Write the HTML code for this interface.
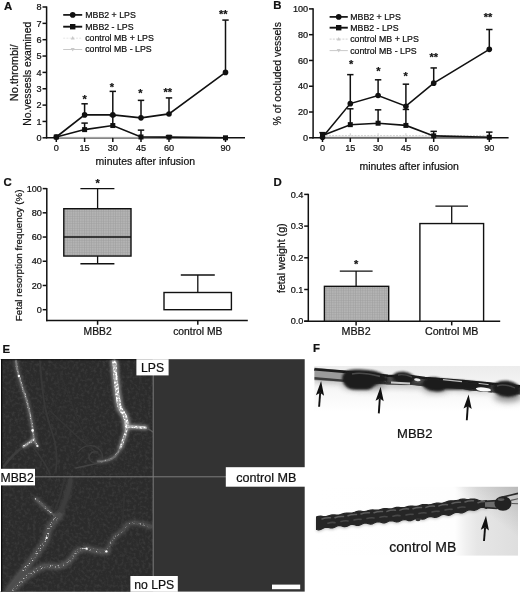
<!DOCTYPE html>
<html lang="en"><head><meta charset="utf-8"><title>Figure</title>
<style>html,body{margin:0;padding:0;background:#fff;}svg{display:block;}text{font-family:"Liberation Sans", Arial, sans-serif;fill:#111;stroke:#111;stroke-width:0.22px;}</style>
</head><body>
<svg width="520" height="593" viewBox="0 0 520 593">
<defs>
<pattern id="grid" width="2.4" height="2.4" patternUnits="userSpaceOnUse">
<rect width="2.4" height="2.4" fill="#b4b4b4"/>
<path d="M0 0H2.4M0 0V2.4" stroke="#9c9c9c" stroke-width="0.9"/>
</pattern>
<filter id="b1" x="-20%" y="-20%" width="140%" height="140%"><feGaussianBlur stdDeviation="0.6"/></filter>
<filter id="b4" x="-20%" y="-30%" width="140%" height="160%"><feGaussianBlur stdDeviation="0.9"/></filter>
<filter id="b2" x="-20%" y="-50%" width="140%" height="200%"><feGaussianBlur stdDeviation="1.6"/></filter>
<filter id="b3" x="-20%" y="-50%" width="140%" height="200%"><feGaussianBlur stdDeviation="3"/></filter>
<filter id="noise" x="0" y="0" width="100%" height="100%">
<feTurbulence type="fractalNoise" baseFrequency="0.33" numOctaves="3" seed="3" result="n"/>
<feColorMatrix type="matrix" values="0 0 0 0 1  0 0 0 0 1  0 0 0 0 1  1.6 0 0 0 -0.68"/>
</filter>
<filter id="speck" x="-5%" y="-5%" width="110%" height="110%">
<feTurbulence type="fractalNoise" baseFrequency="0.5" numOctaves="2" seed="11" result="n"/>
<feColorMatrix in="n" type="matrix" values="0 0 0 0 1  0 0 0 0 1  0 0 0 0 1  5 0 0 0 -2.15" result="nm"/>
<feComposite in="SourceGraphic" in2="nm" operator="in" result="c"/>
<feGaussianBlur in="c" stdDeviation="0.5"/>
</filter>
<filter id="speck2" x="-5%" y="-5%" width="110%" height="110%">
<feTurbulence type="fractalNoise" baseFrequency="0.6" numOctaves="2" seed="23" result="n"/>
<feColorMatrix in="n" type="matrix" values="0 0 0 0 1  0 0 0 0 1  0 0 0 0 1  6 0 0 0 -3.4" result="nm"/>
<feComposite in="SourceGraphic" in2="nm" operator="in" result="c"/>
<feGaussianBlur in="c" stdDeviation="0.35"/>
</filter>
<linearGradient id="gF1" x1="0" y1="0" x2="0" y2="1">
<stop offset="0" stop-color="#ececec"/><stop offset="0.35" stop-color="#f6f6f6"/><stop offset="0.7" stop-color="#ffffff"/><stop offset="1" stop-color="#ffffff"/>
</linearGradient>
<linearGradient id="gF2" x1="0" y1="0" x2="1" y2="0">
<stop offset="0" stop-color="#ffffff"/><stop offset="0.69" stop-color="#fefefe"/><stop offset="0.745" stop-color="#f0f0f0"/><stop offset="0.8" stop-color="#e6e6e6"/><stop offset="1" stop-color="#dedede"/>
</linearGradient>
<linearGradient id="gF3" x1="0.2" y1="1" x2="1" y2="0">
<stop offset="0" stop-color="#888" stop-opacity="0"/><stop offset="0.55" stop-color="#888" stop-opacity="0"/><stop offset="1" stop-color="#888" stop-opacity="0.42"/>
</linearGradient>
<clipPath id="cE"><rect x="0" y="359.2" width="153" height="232.4"/></clipPath>
<clipPath id="cF1"><rect x="314.4" y="366" width="205.6" height="70"/></clipPath>
<clipPath id="cF2"><rect x="314" y="486.8" width="204" height="69"/></clipPath>
</defs>
<text x="2.60" y="352.70" font-size="11.40" text-anchor="start" font-weight="bold" >E</text>
<rect x="0" y="359.2" width="304.7" height="232.4" fill="#333"/>
<rect x="0" y="359.2" width="153" height="232.4" fill="#2b2b2b"/>
<rect x="0" y="359.2" width="153" height="232.4" filter="url(#noise)" opacity="0.1"/>
<g clip-path="url(#cE)" fill="none" stroke-linecap="round" stroke-linejoin="round"><g filter="url(#b2)">
<path d="M15.8 360.3 C16.5 366 17.5 371 18.9 376 C20 380 21 383 22.1 386.6 C23.5 391 25 395 26.3 399.2 C27.5 403 28.6 407.5 29.5 411.8 C30.3 415 31 419 31.6 422.4 C32.2 426 32.7 428 33 430.8 C33.4 434 33.5 436 33.7 438.2 C34.5 441 35.6 443.5 37.4 446" stroke="#666" stroke-width="4.5" opacity="0.70"/>
<path d="M33.7 439.4 C30 442 27 444.6 23.4 446.6" stroke="#777" stroke-width="4.5" opacity="0.80"/>
<path d="M114 360.3 C114.6 364 115 368 115 371.9 C115.4 376 115.8 379 116.1 382.4 C116.5 386 116.8 389.5 117.2 393 C117.8 397 118.4 401 119.3 405.6 C120 408.5 121 410.5 122.5 412 C124 414 125 416 125.6 418.3 C126.3 421 126.6 424 126.7 426.7" stroke="#9a9a9a" stroke-width="7.5" opacity="0.80"/>
<path d="M126.7 427.5 C126 432 125 436 123.5 439.4 C122.6 442.5 121.6 445.4 120.4 447.8" stroke="#888" stroke-width="5.5" opacity="0.80"/>
<path d="M120.4 447.8 C119 451 117.2 453.8 115 456.3 C112.6 458.4 109.8 459.8 106.6 460.5 C103.6 461.2 101 461.5 98.2 461.5" stroke="#666" stroke-width="4.5" opacity="0.60"/>
<path d="M126.7 426.9 C133 426.6 139 427 145.7 427.8" stroke="#999" stroke-width="5.0" opacity="0.80"/>
<path d="M70.5 480 C69.6 488 67 496 63.5 505 C61.5 510 60.5 512 59.7 514.8" stroke="#484848" stroke-width="6.0" opacity="0.60"/>
<path d="M59.7 514.8 C56 519 52.5 523 49.8 526.7 C48 531 46.8 536 45.8 540.7 C42.5 545 39 550 35.8 554.6 C31.6 560 27.6 565.4 23.9 570.5 C19 576.6 14.4 582.4 10 588.4 C9 590 8.4 591 8 592" stroke="#555" stroke-width="8.0" opacity="0.75"/>
<path d="M35.8 498.9 C40 503 44.5 507 49 511 C50.6 512.4 52 513.6 53.7 514.8" stroke="#606060" stroke-width="4.5" opacity="0.70"/>
<path d="M12 591 C19 583 27 576 35.8 570.5 C38.4 568.8 41 567.4 43.8 566.5 C49 565.6 54.6 566.8 59.7 566.5 C63.4 565.4 66.8 563.2 69.7 560.6 C72 558 74 555.2 75.6 552.6 C77.6 550.6 80 549.4 85 548.6 C88.4 548.6 91.8 549.8 94.9 550.6 C99 551.4 103 551.8 106.8 551.6" stroke="#585858" stroke-width="7.0" opacity="0.75"/>
<path d="M106.8 551.6 C108.2 549.4 109 547 109.8 544.7 C111.4 541.8 113 539.2 114.8 536.7 C117.4 534.4 120.2 532.6 122.8 530.7 C124.4 528.8 125.6 526.8 126.8 524.8 C129.4 523.6 132 523 134.7 522.8 C140 523.4 145.4 524.8 150.6 526.7" stroke="#555" stroke-width="6.0" opacity="0.65"/>
</g>
<g filter="url(#b1)">
<path d="M40 361 C41 375 42 390 45 407 C47 416 49 424 52 432 C56 444 58 456 56 470" stroke="#383838" stroke-width="1.8"/>
<path d="M50 411 C60 420 70 430 80 439 C88 446 96 452 104 458" stroke="#363636" stroke-width="1.4"/>
<path d="M23 447 C16 452 10 458 4 466" stroke="#3e3e3e" stroke-width="2.4"/>
<path d="M34 448 C40 456 46 464 50 474" stroke="#383838" stroke-width="1.6"/>
<path d="M60 372 C70 400 80 430 92 452" stroke="#313131" stroke-width="1.4"/>
<path d="M78 452 C84 444 94 444 100 450 C106 458 100 466 92 462 C86 458 90 450 98 452" stroke="#3e3e3e" stroke-width="1.2"/>
<path d="M76 468 C86 466 96 464 106 461" stroke="#444" stroke-width="1.6"/>
<path d="M145.7 427.8 C148 428.6 150.6 430 153 432" stroke="#555" stroke-width="1.4"/>
<path d="M64 480 C62 492 58 504 52 516" stroke="#353535" stroke-width="1.8"/>
<path d="M122.8 522.8 C123 512 123.6 503 124.8 494.9" stroke="#333" stroke-width="1.6"/>
<path d="M110 546 C118 552 128 556 138 560" stroke="#313131" stroke-width="1.4"/>
<path d="M0 500 C8 510 14 522 18 536" stroke="#2f2f2f" stroke-width="1.6"/>
<path d="M60 530 C70 536 78 544 84 548" stroke="#323232" stroke-width="1.4"/>
<path d="M15.8 360.3 C16.5 366 17.5 371 18.9 376 C20 380 21 383 22.1 386.6 C23.5 391 25 395 26.3 399.2 C27.5 403 28.6 407.5 29.5 411.8 C30.3 415 31 419 31.6 422.4 C32.2 426 32.7 428 33 430.8 C33.4 434 33.5 436 33.7 438.2 C34.5 441 35.6 443.5 37.4 446" stroke="#7a7a7a" stroke-width="1.8" opacity="1.00"/>
<path d="M33.7 439.4 C30 442 27 444.6 23.4 446.6" stroke="#9a9a9a" stroke-width="2.2" opacity="1.00"/>
<path d="M114 360.3 C114.6 364 115 368 115 371.9 C115.4 376 115.8 379 116.1 382.4 C116.5 386 116.8 389.5 117.2 393 C117.8 397 118.4 401 119.3 405.6 C120 408.5 121 410.5 122.5 412 C124 414 125 416 125.6 418.3 C126.3 421 126.6 424 126.7 426.7" stroke="#a6a6a6" stroke-width="3.8" opacity="1.00"/>
<path d="M126.7 427.5 C126 432 125 436 123.5 439.4 C122.6 442.5 121.6 445.4 120.4 447.8" stroke="#909090" stroke-width="2.6" opacity="1.00"/>
<path d="M120.4 447.8 C119 451 117.2 453.8 115 456.3 C112.6 458.4 109.8 459.8 106.6 460.5 C103.6 461.2 101 461.5 98.2 461.5" stroke="#6a6a6a" stroke-width="2.2" opacity="1.00"/>
<path d="M126.7 426.9 C133 426.6 139 427 145.7 427.8" stroke="#b0b0b0" stroke-width="2.4" opacity="1.00"/>
<path d="M70.5 480 C69.6 488 67 496 63.5 505 C61.5 510 60.5 512 59.7 514.8" stroke="#3c3c3c" stroke-width="4.2" opacity="1.00"/>
<path d="M59.7 514.8 C56 519 52.5 523 49.8 526.7 C48 531 46.8 536 45.8 540.7 C42.5 545 39 550 35.8 554.6 C31.6 560 27.6 565.4 23.9 570.5 C19 576.6 14.4 582.4 10 588.4 C9 590 8.4 591 8 592" stroke="#4e4e4e" stroke-width="4.6" opacity="1.00"/>
<path d="M35.8 498.9 C40 503 44.5 507 49 511 C50.6 512.4 52 513.6 53.7 514.8" stroke="#585858" stroke-width="2.2" opacity="1.00"/>
<path d="M12 591 C19 583 27 576 35.8 570.5 C38.4 568.8 41 567.4 43.8 566.5 C49 565.6 54.6 566.8 59.7 566.5 C63.4 565.4 66.8 563.2 69.7 560.6 C72 558 74 555.2 75.6 552.6 C77.6 550.6 80 549.4 85 548.6 C88.4 548.6 91.8 549.8 94.9 550.6 C99 551.4 103 551.8 106.8 551.6" stroke="#505050" stroke-width="4.2" opacity="1.00"/>
<path d="M106.8 551.6 C108.2 549.4 109 547 109.8 544.7 C111.4 541.8 113 539.2 114.8 536.7 C117.4 534.4 120.2 532.6 122.8 530.7 C124.4 528.8 125.6 526.8 126.8 524.8 C129.4 523.6 132 523 134.7 522.8 C140 523.4 145.4 524.8 150.6 526.7" stroke="#4a4a4a" stroke-width="3.4" opacity="1.00"/>
</g></g>
<g clip-path="url(#cE)" fill="none" stroke-linecap="round" stroke-linejoin="round" filter="url(#speck)">
<path d="M114 360.3 C114.6 364 115 368 115 371.9 C115.4 376 115.8 379 116.1 382.4 C116.5 386 116.8 389.5 117.2 393 C117.8 397 118.4 401 119.3 405.6 C120 408.5 121 410.5 122.5 412 C124 414 125 416 125.6 418.3 C126.3 421 126.6 424 126.7 426.7" stroke="#ffffff" stroke-width="4.0" opacity="1.00"/>
<path d="M126.7 427.5 C126 432 125 436 123.5 439.4 C122.6 442.5 121.6 445.4 120.4 447.8" stroke="#f4f4f4" stroke-width="2.6" opacity="1.00"/>
<path d="M126.7 426.9 C133 426.6 139 427 145.7 427.8" stroke="#ffffff" stroke-width="2.2" opacity="1.00"/>
</g>
<g clip-path="url(#cE)" fill="none" stroke-linecap="round" stroke-linejoin="round" filter="url(#speck2)">
<path d="M15.8 360.3 C16.5 366 17.5 371 18.9 376 C20 380 21 383 22.1 386.6 C23.5 391 25 395 26.3 399.2 C27.5 403 28.6 407.5 29.5 411.8 C30.3 415 31 419 31.6 422.4 C32.2 426 32.7 428 33 430.8 C33.4 434 33.5 436 33.7 438.2 C34.5 441 35.6 443.5 37.4 446" stroke="#d0d0d0" stroke-width="2.0" opacity="0.85"/>
<path d="M33.7 439.4 C30 442 27 444.6 23.4 446.6" stroke="#ececec" stroke-width="2.4" opacity="1.00"/>
<path d="M120.4 447.8 C119 451 117.2 453.8 115 456.3 C112.6 458.4 109.8 459.8 106.6 460.5 C103.6 461.2 101 461.5 98.2 461.5" stroke="#b0b0b0" stroke-width="1.8" opacity="0.80"/>
<path d="M57 517 C54 521 51.4 524 49.8 526.7 C48 531 46.8 536 45.8 540.7 C42.5 545 39 550 35.8 554.6 C31.6 560 27.6 565.4 23.9 570.5" stroke="#e0e0e0" stroke-width="3.0" opacity="0.85"/>
<path d="M35.8 498.9 C40 503 44.5 507 49 511 C50.6 512.4 52 513.6 53.7 514.8" stroke="#d6d6d6" stroke-width="2.0" opacity="0.85"/>
<path d="M12 591 C19 583 27 576 35.8 570.5 C38.4 568.8 41 567.4 43.8 566.5 C49 565.6 54.6 566.8 59.7 566.5 C63.4 565.4 66.8 563.2 69.7 560.6 C72 558 74 555.2 75.6 552.6 C77.6 550.6 80 549.4 85 548.6 C88.4 548.6 91.8 549.8 94.9 550.6 C99 551.4 103 551.8 106.8 551.6" stroke="#dcdcdc" stroke-width="2.8" opacity="0.80"/>
<path d="M106.8 551.6 C108.2 549.4 109 547 109.8 544.7 C111.4 541.8 113 539.2 114.8 536.7 C117.4 534.4 120.2 532.6 122.8 530.7 C124.4 528.8 125.6 526.8 126.8 524.8 C129.4 523.6 132 523 134.7 522.8 C140 523.4 145.4 524.8 150.6 526.7" stroke="#b4b4b4" stroke-width="2.0" opacity="0.70"/>
</g>
<g filter="url(#b1)"><circle cx="18.9" cy="376" r="1.2" fill="#fff"/><circle cx="32.6" cy="430.4" r="1.3" fill="#fff"/><circle cx="37.4" cy="446" r="1.1" fill="#eee"/><circle cx="46.6" cy="538" r="1.1" fill="#fff"/><circle cx="106.4" cy="551.4" r="1.2" fill="#fff"/><circle cx="86.5" cy="548.6" r="1.2" fill="#fff"/></g>
<rect x="0" y="359.2" width="1.0" height="232.4" fill="#fff"/>
<rect x="1.0" y="359.2" width="1.3" height="232.4" fill="#0c0c0c"/>
<rect x="1.0" y="359.2" width="152" height="1.1" fill="#0c0c0c" opacity="0.8"/>
<line x1="153.20" y1="359.20" x2="153.20" y2="591.60" stroke="#7c7c7c" stroke-width="1.00" />
<line x1="0.00" y1="476.80" x2="304.70" y2="476.80" stroke="#7c7c7c" stroke-width="1.00" />
<rect x="136.4" y="359.2" width="32.2" height="16.2" fill="#fff"/>
<text x="152.60" y="372.20" font-size="12.20" text-anchor="middle" >LPS</text>
<rect x="0" y="468.8" width="35.0" height="16.6" fill="#fff"/>
<text x="0.50" y="481.80" font-size="12.20" text-anchor="start" >MBB2</text>
<rect x="225.8" y="467.2" width="79.4" height="19.5" fill="#fff"/>
<text x="266.40" y="481.80" font-size="12.60" text-anchor="middle" >control MB</text>
<rect x="130.4" y="576.0" width="47.4" height="15.8" fill="#fff"/>
<text x="154.20" y="588.60" font-size="12.20" text-anchor="middle" >no LPS</text>
<rect x="272" y="584.6" width="28.2" height="4.6" fill="#fff"/>
<text x="313.00" y="351.90" font-size="11.40" text-anchor="start" font-weight="bold" >F</text>
<rect x="314.4" y="366" width="205.6" height="66" fill="url(#gF1)"/>
<path d="M314.4 369.6 L326 370.6" stroke="#1c1c1c" stroke-width="5.6" fill="none" filter="url(#b1)"/>
<g clip-path="url(#cF1)">
<g filter="url(#b3)" fill="#6a6a6a" opacity="0.75">
<ellipse cx="365" cy="385" rx="22" ry="5"/><ellipse cx="436" cy="388.6" rx="13" ry="4"/><ellipse cx="508" cy="396" rx="14" ry="6"/>
<path d="M314 377 L345 380 L392 383 L420 384 L463 387 L492 390 L492 392 L463 390 L420 387 L392 386 L345 383 L314 381Z"/>
</g>
<g filter="url(#b1)">
<path d="M314 367.6 L343 370.6 L388 375 L410 375.6 L425 377.4 L463 380.2 L484 382.3 L520 385.6 L520 394.6 L484 391.8 L469 390.2 L463 388.7 L425 386 L410 384.4 L388 384.4 L343 382 L314 380.2Z" fill="#9a9a9a"/>
<path d="M386 375 L410 375.6 L425 377.4 L463 380.2 L484 382.3 L520 385.6 L520 394.6 L484 391.8 L469 390.2 L463 388.7 L425 386 L410 384.4 L386 384.2Z" fill="#4a4a4a"/>
<path d="M314 369.2 L343 371.6 L388 375.8 L412 376.4 L425 378 L463 381 L484 383.1 L520 386.4" fill="none" stroke="#1c1c1c" stroke-width="2.6"/>
<path d="M314 378.2 L343 380.6 L388 383.2 L412 383.8 L425 385.2 L463 387.8 L472 389.2 L492 391.4" fill="none" stroke="#3a3a3a" stroke-width="2.4"/>
<path d="M446 383.4 L470 386 L478 387.2" fill="none" stroke="#222" stroke-width="5"/>
</g>
<g filter="url(#b4)" fill="#1b1b1b">
<path d="M342 378 C342.4 375 344.6 371.6 347.3 370.7 C351 369.6 356 369.4 360 369.6 C365 369.8 370.6 370.2 374.8 371.1 C379 372.2 383 374 385.4 376 C387 377.4 388.2 378.6 388.2 379.6 C388 381 387 381.8 385.4 382.3 C382.6 383.2 379.6 383.6 376.9 384.4 C374.4 385.4 372.8 387.6 370.6 388.7 C368 389.8 365 389.9 362.1 389.8 C358.6 389.8 355 389.9 351.5 389.3 C348.8 388.6 346.6 387.4 345.2 385.5 C343.6 383.4 342 381 342 378Z"/>
<ellipse cx="403.6" cy="377.8" rx="11.2" ry="6" transform="rotate(6 403.6 377.8)"/>
<ellipse cx="435.4" cy="384.4" rx="13" ry="7" transform="rotate(5 435.4 384.4)"/>
<path d="M440 379 L463 380.6 L486 383 L492 385.4 L490 388 L476 388.4 L470 390.6 L462 389.4 L446 389.6Z"/>
<ellipse cx="506.5" cy="388.8" rx="14" ry="8" transform="rotate(6 506.5 388.8)"/>
</g>
<g filter="url(#b1)">
<ellipse cx="483.4" cy="389.4" rx="7.6" ry="2.0" fill="#fafafa" transform="rotate(6 483.4 389.4)"/>
<path d="M478.6 383.4 L488.6 384.6" stroke="#d0d0d0" stroke-width="0.9" fill="none"/>
<ellipse cx="417.4" cy="379.8" rx="3.2" ry="1.4" fill="#e8e8e8" transform="rotate(8 417.4 379.8)"/>
<path d="M443 379.6 L462 381.6" stroke="#bdbdbd" stroke-width="1.2" fill="none"/>
<path d="M391 382.6 L410 383.6" stroke="#c8c8c8" stroke-width="2" fill="none"/>
<path d="M352 374 C358 372.6 368 373.4 380 376.4" stroke="#4a4a4a" stroke-width="1.6" fill="none"/>
<path d="M398 375 C402 374 408 375.4 412 377" stroke="#444" stroke-width="1.4" fill="none"/>
<path d="M497 386 C502 384 510 385.4 515 388" stroke="#444" stroke-width="1.4" fill="none"/>
</g>
</g>
<line x1="319.10" y1="406.80" x2="320.18" y2="392.86" stroke="#111" stroke-width="1.90" />
<path d="M321.10 381.10 L324.07 395.77 L320.18 392.86 L315.90 395.14 Z" fill="#111"/>
<line x1="378.80" y1="413.40" x2="379.81" y2="398.47" stroke="#111" stroke-width="1.90" />
<path d="M380.60 386.70 L383.72 401.34 L379.81 398.47 L375.54 400.79 Z" fill="#111"/>
<line x1="466.80" y1="420.20" x2="467.78" y2="406.17" stroke="#111" stroke-width="1.90" />
<path d="M468.60 394.40 L471.69 409.05 L467.78 406.17 L463.51 408.48 Z" fill="#111"/>
<text x="414.80" y="437.60" font-size="13.00" text-anchor="middle" >MBB2</text>
<rect x="314.4" y="486.8" width="203.6" height="68.8" fill="url(#gF2)"/>
<rect x="446" y="486.8" width="72" height="68.8" fill="url(#gF3)"/>
<g clip-path="url(#cF2)">
<g filter="url(#b2)" opacity="0.5"><path d="M316.6 516.9 L318.6 516.4 L320.6 516.2 L322.6 516.4 L324.6 516.5 L326.6 516.4 L328.6 515.8 L330.6 515.2 L332.6 514.9 L334.6 514.9 L336.6 515.1 L338.6 515.1 L340.6 514.6 L342.6 513.9 L344.6 513.3 L346.6 513.0 L348.6 513.1 L350.6 513.2 L352.6 512.9 L354.6 512.3 L356.6 511.6 L358.6 511.2 L360.6 511.2 L362.6 511.5 L364.6 511.5 L366.6 511.1 L368.6 510.5 L370.6 510.0 L372.6 509.9 L374.6 510.1 L376.6 510.2 L378.6 510.1 L380.6 509.5 L382.6 508.9 L384.6 508.6 L386.6 508.7 L388.6 508.9 L390.6 508.9 L392.6 508.5 L394.6 507.9 L396.6 507.4 L398.6 507.3 L400.6 507.5 L402.6 507.6 L404.6 507.5 L406.6 506.9 L408.6 506.3 L410.6 506.0 L412.6 506.1 L414.6 506.3 L416.6 506.3 L418.6 505.9 L420.6 505.2 L422.6 504.7 L424.6 504.6 L426.6 504.7 L428.6 504.9 L430.6 504.7 L432.6 504.1 L434.6 503.5 L436.6 503.1 L438.6 503.2 L440.6 503.3 L442.6 503.1 L444.6 502.6 L446.6 501.8 L448.6 501.1 L450.6 500.8 L452.6 500.8 L454.6 500.7 L456.6 500.5 L458.6 500.0 L460.6 499.4 L462.6 499.1 L464.6 499.2 L466.6 499.5 L468.6 499.5 L470.6 499.2 L472.6 499.1 L474.6 499.1 L476.6 499.5 L478.6 500.2 L480.6 500.8 L482.6 501.1 L484.6 500.9 L486.6 500.7 L486.6 508.4 L484.6 507.7 L482.6 507.2 L480.6 507.4 L478.6 508.5 L476.6 509.7 L474.6 510.3 L472.6 510.2 L470.6 509.9 L468.6 509.9 L466.6 510.7 L464.6 511.9 L462.6 512.8 L460.6 512.9 L458.6 512.5 L456.6 512.2 L454.6 512.7 L452.6 513.7 L450.6 514.8 L448.6 515.3 L446.6 515.0 L444.6 514.5 L442.6 514.5 L440.6 515.2 L438.6 516.4 L436.6 517.2 L434.6 517.3 L432.6 516.8 L430.6 516.4 L428.6 516.8 L426.6 517.7 L424.6 518.8 L422.6 519.2 L420.6 518.8 L418.6 518.3 L416.6 518.2 L414.6 518.9 L412.6 519.9 L410.6 520.6 L408.6 520.6 L406.6 520.0 L404.6 519.5 L402.6 519.8 L400.6 520.7 L398.6 521.6 L396.6 521.9 L394.6 521.5 L392.6 520.8 L390.6 520.6 L388.6 521.2 L386.6 522.2 L384.6 522.9 L382.6 522.8 L380.6 522.1 L378.6 521.6 L376.6 521.9 L374.6 522.8 L372.6 523.8 L370.6 524.1 L368.6 523.7 L366.6 523.1 L364.6 523.0 L362.6 523.7 L360.6 524.7 L358.6 525.4 L356.6 525.4 L354.6 524.7 L352.6 524.3 L350.6 524.5 L348.6 525.4 L346.6 526.4 L344.6 526.7 L342.6 526.3 L340.6 525.7 L338.6 525.5 L336.6 526.2 L334.6 527.3 L332.6 528.0 L330.6 528.0 L328.6 527.5 L326.6 527.1 L324.6 527.4 L322.6 528.4 L320.6 529.4 L318.6 529.8 L316.6 529.5Z" fill="#777" transform="translate(0 1.5)"/></g>
<g filter="url(#b1)">
<path d="M316.6 516.9 L318.6 516.4 L320.6 516.2 L322.6 516.4 L324.6 516.5 L326.6 516.4 L328.6 515.8 L330.6 515.2 L332.6 514.9 L334.6 514.9 L336.6 515.1 L338.6 515.1 L340.6 514.6 L342.6 513.9 L344.6 513.3 L346.6 513.0 L348.6 513.1 L350.6 513.2 L352.6 512.9 L354.6 512.3 L356.6 511.6 L358.6 511.2 L360.6 511.2 L362.6 511.5 L364.6 511.5 L366.6 511.1 L368.6 510.5 L370.6 510.0 L372.6 509.9 L374.6 510.1 L376.6 510.2 L378.6 510.1 L380.6 509.5 L382.6 508.9 L384.6 508.6 L386.6 508.7 L388.6 508.9 L390.6 508.9 L392.6 508.5 L394.6 507.9 L396.6 507.4 L398.6 507.3 L400.6 507.5 L402.6 507.6 L404.6 507.5 L406.6 506.9 L408.6 506.3 L410.6 506.0 L412.6 506.1 L414.6 506.3 L416.6 506.3 L418.6 505.9 L420.6 505.2 L422.6 504.7 L424.6 504.6 L426.6 504.7 L428.6 504.9 L430.6 504.7 L432.6 504.1 L434.6 503.5 L436.6 503.1 L438.6 503.2 L440.6 503.3 L442.6 503.1 L444.6 502.6 L446.6 501.8 L448.6 501.1 L450.6 500.8 L452.6 500.8 L454.6 500.7 L456.6 500.5 L458.6 500.0 L460.6 499.4 L462.6 499.1 L464.6 499.2 L466.6 499.5 L468.6 499.5 L470.6 499.2 L472.6 499.1 L474.6 499.1 L476.6 499.5 L478.6 500.2 L480.6 500.8 L482.6 501.1 L484.6 500.9 L486.6 500.7 L486.6 508.4 L484.6 507.7 L482.6 507.2 L480.6 507.4 L478.6 508.5 L476.6 509.7 L474.6 510.3 L472.6 510.2 L470.6 509.9 L468.6 509.9 L466.6 510.7 L464.6 511.9 L462.6 512.8 L460.6 512.9 L458.6 512.5 L456.6 512.2 L454.6 512.7 L452.6 513.7 L450.6 514.8 L448.6 515.3 L446.6 515.0 L444.6 514.5 L442.6 514.5 L440.6 515.2 L438.6 516.4 L436.6 517.2 L434.6 517.3 L432.6 516.8 L430.6 516.4 L428.6 516.8 L426.6 517.7 L424.6 518.8 L422.6 519.2 L420.6 518.8 L418.6 518.3 L416.6 518.2 L414.6 518.9 L412.6 519.9 L410.6 520.6 L408.6 520.6 L406.6 520.0 L404.6 519.5 L402.6 519.8 L400.6 520.7 L398.6 521.6 L396.6 521.9 L394.6 521.5 L392.6 520.8 L390.6 520.6 L388.6 521.2 L386.6 522.2 L384.6 522.9 L382.6 522.8 L380.6 522.1 L378.6 521.6 L376.6 521.9 L374.6 522.8 L372.6 523.8 L370.6 524.1 L368.6 523.7 L366.6 523.1 L364.6 523.0 L362.6 523.7 L360.6 524.7 L358.6 525.4 L356.6 525.4 L354.6 524.7 L352.6 524.3 L350.6 524.5 L348.6 525.4 L346.6 526.4 L344.6 526.7 L342.6 526.3 L340.6 525.7 L338.6 525.5 L336.6 526.2 L334.6 527.3 L332.6 528.0 L330.6 528.0 L328.6 527.5 L326.6 527.1 L324.6 527.4 L322.6 528.4 L320.6 529.4 L318.6 529.8 L316.6 529.5Z" fill="#262626" stroke="#262626" stroke-width="1.2" stroke-linejoin="round"/>
<path d="M322.0 519.0 q4 -1.6 8.5 -1.2 M335.0 517.7 q4 -1.6 8.5 -1.2 M348.0 515.8 q4 -1.6 8.5 -1.2 M361.0 514.0 q4 -1.6 8.5 -1.2 M374.0 512.7 q4 -1.6 8.5 -1.2 M387.0 511.4 q4 -1.6 8.5 -1.2 M400.0 510.1 q4 -1.6 8.5 -1.2 M413.0 508.8 q4 -1.6 8.5 -1.2 M426.0 507.4 q4 -1.6 8.5 -1.2 M439.0 505.9 q4 -1.6 8.5 -1.2 M452.0 503.5 q4 -1.6 8.5 -1.2 M465.0 502.0 q4 -1.6 8.5 -1.2 M478.0 502.7 q4 -1.6 8.5 -1.2" fill="none" stroke="#5c5c5c" stroke-width="1.5" stroke-linecap="round"/>
<path d="M328.0 523.2 q3.5 -1.2 7 -0.6 M341.0 521.6 q3.5 -1.2 7 -0.6 M354.0 520.0 q3.5 -1.2 7 -0.6 M367.0 518.6 q3.5 -1.2 7 -0.6 M380.0 517.3 q3.5 -1.2 7 -0.6 M393.0 516.2 q3.5 -1.2 7 -0.6 M406.0 515.0 q3.5 -1.2 7 -0.6 M419.0 513.6 q3.5 -1.2 7 -0.6 M432.0 512.0 q3.5 -1.2 7 -0.6 M445.0 510.0 q3.5 -1.2 7 -0.6 M458.0 507.8 q3.5 -1.2 7 -0.6" fill="none" stroke="#474747" stroke-width="1.6" stroke-linecap="round"/>
<path d="M485 501 L496 500.6 L496 507.8 L485 508Z" fill="#6c6c6c"/>
<path d="M485 501.4 L497 500.6 M485 507.6 L497 508.4" stroke="#2c2c2c" stroke-width="1.8" fill="none"/>
<ellipse cx="503" cy="503.5" rx="8.5" ry="7.3" fill="#222"/>
<ellipse cx="501" cy="499.6" rx="3.4" ry="1.4" fill="#5a5a5a"/>
<ellipse cx="418" cy="519.6" rx="2.6" ry="1.6" fill="#333"/>
<path d="M501.5 497.3 L518 493.4" stroke="#2a2a2a" stroke-width="1.6" fill="none"/>
<path d="M510.8 500.4 L518 498.8 M511.5 503.5 L518 503.8" stroke="#555" stroke-width="1.1" fill="none"/>
</g>
</g>
<line x1="484.00" y1="541.00" x2="485.07" y2="527.56" stroke="#111" stroke-width="1.90" />
<path d="M486.00 515.80 L488.95 530.48 L485.07 527.56 L480.77 529.83 Z" fill="#111"/>
<text x="422.80" y="552.30" font-size="14.00" text-anchor="middle" >control MB</text>
<text x="4.00" y="9.70" font-size="11.40" text-anchor="start" font-weight="bold" >A</text>
<line x1="46.60" y1="6.40" x2="46.60" y2="138.40" stroke="#111" stroke-width="1.50" />
<line x1="46.00" y1="137.80" x2="245.00" y2="137.80" stroke="#111" stroke-width="1.50" />
<line x1="42.50" y1="137.80" x2="46.60" y2="137.80" stroke="#111" stroke-width="1.50" />
<text transform="translate(41.70 140.95) scale(1.040 1)" font-size="8.80" text-anchor="end" >0</text>
<line x1="42.50" y1="121.45" x2="46.60" y2="121.45" stroke="#111" stroke-width="1.50" />
<text transform="translate(41.70 124.60) scale(1.040 1)" font-size="8.80" text-anchor="end" >1</text>
<line x1="42.50" y1="105.10" x2="46.60" y2="105.10" stroke="#111" stroke-width="1.50" />
<text transform="translate(41.70 108.25) scale(1.040 1)" font-size="8.80" text-anchor="end" >2</text>
<line x1="42.50" y1="88.75" x2="46.60" y2="88.75" stroke="#111" stroke-width="1.50" />
<text transform="translate(41.70 91.90) scale(1.040 1)" font-size="8.80" text-anchor="end" >3</text>
<line x1="42.50" y1="72.40" x2="46.60" y2="72.40" stroke="#111" stroke-width="1.50" />
<text transform="translate(41.70 75.55) scale(1.040 1)" font-size="8.80" text-anchor="end" >4</text>
<line x1="42.50" y1="56.05" x2="46.60" y2="56.05" stroke="#111" stroke-width="1.50" />
<text transform="translate(41.70 59.20) scale(1.040 1)" font-size="8.80" text-anchor="end" >5</text>
<line x1="42.50" y1="39.70" x2="46.60" y2="39.70" stroke="#111" stroke-width="1.50" />
<text transform="translate(41.70 42.85) scale(1.040 1)" font-size="8.80" text-anchor="end" >6</text>
<line x1="42.50" y1="23.35" x2="46.60" y2="23.35" stroke="#111" stroke-width="1.50" />
<text transform="translate(41.70 26.50) scale(1.040 1)" font-size="8.80" text-anchor="end" >7</text>
<line x1="42.50" y1="7.00" x2="46.60" y2="7.00" stroke="#111" stroke-width="1.50" />
<text transform="translate(41.70 10.15) scale(1.040 1)" font-size="8.80" text-anchor="end" >8</text>
<line x1="56.30" y1="137.80" x2="56.30" y2="142.00" stroke="#111" stroke-width="1.50" />
<text transform="translate(56.30 150.70) scale(1.040 1)" font-size="8.80" text-anchor="middle" >0</text>
<line x1="84.60" y1="137.80" x2="84.60" y2="142.00" stroke="#111" stroke-width="1.50" />
<text transform="translate(84.60 150.70) scale(1.040 1)" font-size="8.80" text-anchor="middle" >15</text>
<line x1="112.80" y1="137.80" x2="112.80" y2="142.00" stroke="#111" stroke-width="1.50" />
<text transform="translate(112.80 150.70) scale(1.040 1)" font-size="8.80" text-anchor="middle" >30</text>
<line x1="141.00" y1="137.80" x2="141.00" y2="142.00" stroke="#111" stroke-width="1.50" />
<text transform="translate(141.00 150.70) scale(1.040 1)" font-size="8.80" text-anchor="middle" >45</text>
<line x1="169.00" y1="137.80" x2="169.00" y2="142.00" stroke="#111" stroke-width="1.50" />
<text transform="translate(169.00 150.70) scale(1.040 1)" font-size="8.80" text-anchor="middle" >60</text>
<line x1="225.50" y1="137.80" x2="225.50" y2="142.00" stroke="#111" stroke-width="1.50" />
<text transform="translate(225.50 150.70) scale(1.040 1)" font-size="8.80" text-anchor="middle" >90</text>
<text transform="translate(145.30 164.70) scale(0.935 1)" font-size="11.20" text-anchor="middle" >minutes after infusion</text>
<text transform="translate(17.60 72.80) rotate(-90) scale(0.980 1)" font-size="11.20" text-anchor="middle">No.thrombi/</text>
<text transform="translate(31.20 73.80) rotate(-90) scale(0.930 1)" font-size="11.20" text-anchor="middle">No.vessesls examined</text>
<polyline points="56.3,137.3 84.6,137.3 112.8,137.3 141.0,137.3 169.0,137.3 225.5,137.3" fill="none" stroke="#c9c9c9" stroke-width="1"/>
<line x1="84.60" y1="129.62" x2="84.60" y2="123.09" stroke="#111" stroke-width="1.50" />
<line x1="81.40" y1="123.09" x2="87.80" y2="123.09" stroke="#111" stroke-width="1.50" />
<line x1="112.80" y1="125.54" x2="112.80" y2="115.73" stroke="#111" stroke-width="1.50" />
<line x1="109.60" y1="115.73" x2="116.00" y2="115.73" stroke="#111" stroke-width="1.50" />
<line x1="141.00" y1="136.98" x2="141.00" y2="130.12" stroke="#111" stroke-width="1.50" />
<line x1="137.80" y1="130.12" x2="144.20" y2="130.12" stroke="#111" stroke-width="1.50" />
<line x1="169.00" y1="137.15" x2="169.00" y2="135.84" stroke="#111" stroke-width="1.50" />
<line x1="165.80" y1="135.84" x2="172.20" y2="135.84" stroke="#111" stroke-width="1.50" />
<line x1="84.60" y1="114.91" x2="84.60" y2="103.79" stroke="#111" stroke-width="1.50" />
<line x1="81.40" y1="103.79" x2="87.80" y2="103.79" stroke="#111" stroke-width="1.50" />
<line x1="112.80" y1="114.91" x2="112.80" y2="91.37" stroke="#111" stroke-width="1.50" />
<line x1="109.60" y1="91.37" x2="116.00" y2="91.37" stroke="#111" stroke-width="1.50" />
<line x1="141.00" y1="117.85" x2="141.00" y2="100.36" stroke="#111" stroke-width="1.50" />
<line x1="137.80" y1="100.36" x2="144.20" y2="100.36" stroke="#111" stroke-width="1.50" />
<line x1="169.00" y1="113.93" x2="169.00" y2="97.91" stroke="#111" stroke-width="1.50" />
<line x1="165.80" y1="97.91" x2="172.20" y2="97.91" stroke="#111" stroke-width="1.50" />
<line x1="225.50" y1="72.40" x2="225.50" y2="20.08" stroke="#111" stroke-width="1.50" />
<line x1="222.30" y1="20.08" x2="228.70" y2="20.08" stroke="#111" stroke-width="1.50" />
<polyline points="56.3,137.0 84.6,129.6 112.8,125.5 141.0,137.0 169.0,137.1 225.5,137.8" fill="none" stroke="#111" stroke-width="1.6"/>
<rect x="53.80" y="134.48" width="5" height="5" fill="#111"/>
<rect x="82.10" y="127.12" width="5" height="5" fill="#111"/>
<rect x="110.30" y="123.04" width="5" height="5" fill="#111"/>
<rect x="138.50" y="134.48" width="5" height="5" fill="#111"/>
<rect x="166.50" y="134.65" width="5" height="5" fill="#111"/>
<rect x="223.00" y="135.30" width="5" height="5" fill="#111"/>
<polyline points="56.3,137.0 84.6,114.9 112.8,114.9 141.0,117.9 169.0,113.9 225.5,72.4" fill="none" stroke="#111" stroke-width="1.6"/>
<circle cx="56.30" cy="136.98" r="2.8" fill="#111"/>
<circle cx="84.60" cy="114.91" r="2.8" fill="#111"/>
<circle cx="112.80" cy="114.91" r="2.8" fill="#111"/>
<circle cx="141.00" cy="117.85" r="2.8" fill="#111"/>
<circle cx="169.00" cy="113.93" r="2.8" fill="#111"/>
<circle cx="225.50" cy="72.40" r="2.8" fill="#111"/>
<text x="84.60" y="103.10" font-size="11.00" text-anchor="middle" font-weight="bold" >*</text>
<text x="111.90" y="90.80" font-size="11.00" text-anchor="middle" font-weight="bold" >*</text>
<text x="140.40" y="97.40" font-size="11.00" text-anchor="middle" font-weight="bold" >*</text>
<text x="167.70" y="96.20" font-size="11.00" text-anchor="middle" font-weight="bold" >**</text>
<text x="223.20" y="17.80" font-size="11.00" text-anchor="middle" font-weight="bold" >**</text>
<line x1="63.20" y1="14.90" x2="82.20" y2="14.90" stroke="#111" stroke-width="1.70" />
<circle cx="72.70" cy="14.90" r="2.8" fill="#111"/>
<line x1="63.20" y1="26.70" x2="82.20" y2="26.70" stroke="#111" stroke-width="1.90" />
<rect x="70.00" y="24.00" width="5.4" height="5.4" fill="#111"/>
<line x1="63.20" y1="38.20" x2="82.20" y2="38.20" stroke="#e6e6e6" stroke-width="1.00" stroke-dasharray="2 1.2"/>
<path d="M72.70 36.00 l2 3.6 h-4z" fill="#c9c9c9"/>
<line x1="63.20" y1="49.50" x2="82.20" y2="49.50" stroke="#c9c9c9" stroke-width="1.00" />
<path d="M72.70 51.50 l2 -3.6 h-4z" fill="#c9c9c9"/>
<text transform="translate(85.20 17.80) scale(1.035 1)" font-size="8.50" text-anchor="start" fill="#1a1a1a">MBB2 + LPS</text>
<text transform="translate(85.20 29.60) scale(1.035 1)" font-size="8.50" text-anchor="start" fill="#1a1a1a">MBB2 - LPS</text>
<text transform="translate(85.20 41.10) scale(1.035 1)" font-size="8.50" text-anchor="start" fill="#1a1a1a">control MB + LPS</text>
<text transform="translate(85.20 52.40) scale(1.035 1)" font-size="8.50" text-anchor="start" fill="#1a1a1a">control MB - LPS</text>
<text x="273.20" y="9.10" font-size="11.40" text-anchor="start" font-weight="bold" >B</text>
<line x1="313.10" y1="8.30" x2="313.10" y2="138.40" stroke="#111" stroke-width="1.50" />
<line x1="312.50" y1="137.80" x2="508.60" y2="137.80" stroke="#111" stroke-width="1.50" />
<line x1="309.00" y1="137.80" x2="313.10" y2="137.80" stroke="#111" stroke-width="1.50" />
<text transform="translate(308.20 140.95) scale(1.040 1)" font-size="8.80" text-anchor="end" >0</text>
<line x1="309.00" y1="112.02" x2="313.10" y2="112.02" stroke="#111" stroke-width="1.50" />
<text transform="translate(308.20 115.17) scale(1.040 1)" font-size="8.80" text-anchor="end" >20</text>
<line x1="309.00" y1="86.24" x2="313.10" y2="86.24" stroke="#111" stroke-width="1.50" />
<text transform="translate(308.20 89.39) scale(1.040 1)" font-size="8.80" text-anchor="end" >40</text>
<line x1="309.00" y1="60.46" x2="313.10" y2="60.46" stroke="#111" stroke-width="1.50" />
<text transform="translate(308.20 63.61) scale(1.040 1)" font-size="8.80" text-anchor="end" >60</text>
<line x1="309.00" y1="34.68" x2="313.10" y2="34.68" stroke="#111" stroke-width="1.50" />
<text transform="translate(308.20 37.83) scale(1.040 1)" font-size="8.80" text-anchor="end" >80</text>
<line x1="309.00" y1="8.90" x2="313.10" y2="8.90" stroke="#111" stroke-width="1.50" />
<text transform="translate(308.20 12.05) scale(1.040 1)" font-size="8.80" text-anchor="end" >100</text>
<line x1="322.50" y1="137.80" x2="322.50" y2="142.00" stroke="#111" stroke-width="1.50" />
<text transform="translate(322.50 150.70) scale(1.040 1)" font-size="8.80" text-anchor="middle" >0</text>
<line x1="350.30" y1="137.80" x2="350.30" y2="142.00" stroke="#111" stroke-width="1.50" />
<text transform="translate(350.30 150.70) scale(1.040 1)" font-size="8.80" text-anchor="middle" >15</text>
<line x1="378.10" y1="137.80" x2="378.10" y2="142.00" stroke="#111" stroke-width="1.50" />
<text transform="translate(378.10 150.70) scale(1.040 1)" font-size="8.80" text-anchor="middle" >30</text>
<line x1="405.90" y1="137.80" x2="405.90" y2="142.00" stroke="#111" stroke-width="1.50" />
<text transform="translate(405.90 150.70) scale(1.040 1)" font-size="8.80" text-anchor="middle" >45</text>
<line x1="433.70" y1="137.80" x2="433.70" y2="142.00" stroke="#111" stroke-width="1.50" />
<text transform="translate(433.70 150.70) scale(1.040 1)" font-size="8.80" text-anchor="middle" >60</text>
<line x1="489.30" y1="137.80" x2="489.30" y2="142.00" stroke="#111" stroke-width="1.50" />
<text transform="translate(489.30 150.70) scale(1.040 1)" font-size="8.80" text-anchor="middle" >90</text>
<text transform="translate(409.20 170.40) scale(0.935 1)" font-size="11.20" text-anchor="middle" >minutes after infusion</text>
<text transform="translate(280.90 73.80) rotate(-90) scale(0.933 1)" font-size="11.20" text-anchor="middle">% of occluded vessels</text>
<polyline points="322.5,135.7 350.3,135.7 378.1,135.7 405.9,135.7 433.7,135.7 489.3,135.7" fill="none" stroke="#c9c9c9" stroke-width="1" stroke-dasharray="2 1.2"/>
<polyline points="322.5,137.0 350.3,137.0 378.1,137.0 405.9,137.0 433.7,137.0 489.3,137.0" fill="none" stroke="#c9c9c9" stroke-width="1"/>
<line x1="322.50" y1="135.74" x2="322.50" y2="133.16" stroke="#c9c9c9" stroke-width="0.90" />
<line x1="350.30" y1="135.74" x2="350.30" y2="133.16" stroke="#c9c9c9" stroke-width="0.90" />
<line x1="378.10" y1="135.74" x2="378.10" y2="133.16" stroke="#c9c9c9" stroke-width="0.90" />
<line x1="405.90" y1="135.74" x2="405.90" y2="133.16" stroke="#c9c9c9" stroke-width="0.90" />
<line x1="433.70" y1="135.74" x2="433.70" y2="133.16" stroke="#c9c9c9" stroke-width="0.90" />
<line x1="489.30" y1="135.74" x2="489.30" y2="133.16" stroke="#c9c9c9" stroke-width="0.90" />
<line x1="322.50" y1="135.48" x2="322.50" y2="132.64" stroke="#111" stroke-width="1.50" />
<line x1="319.30" y1="132.64" x2="325.70" y2="132.64" stroke="#111" stroke-width="1.50" />
<line x1="350.30" y1="124.65" x2="350.30" y2="108.80" stroke="#111" stroke-width="1.50" />
<line x1="347.10" y1="108.80" x2="353.50" y2="108.80" stroke="#111" stroke-width="1.50" />
<line x1="378.10" y1="123.23" x2="378.10" y2="109.83" stroke="#111" stroke-width="1.50" />
<line x1="374.90" y1="109.83" x2="381.30" y2="109.83" stroke="#111" stroke-width="1.50" />
<line x1="405.90" y1="125.43" x2="405.90" y2="109.44" stroke="#111" stroke-width="1.50" />
<line x1="402.70" y1="109.44" x2="409.10" y2="109.44" stroke="#111" stroke-width="1.50" />
<line x1="433.70" y1="135.87" x2="433.70" y2="131.36" stroke="#111" stroke-width="1.50" />
<line x1="430.50" y1="131.36" x2="436.90" y2="131.36" stroke="#111" stroke-width="1.50" />
<line x1="489.30" y1="137.28" x2="489.30" y2="132.13" stroke="#111" stroke-width="1.50" />
<line x1="486.10" y1="132.13" x2="492.50" y2="132.13" stroke="#111" stroke-width="1.50" />
<line x1="350.30" y1="103.64" x2="350.30" y2="74.64" stroke="#111" stroke-width="1.50" />
<line x1="347.10" y1="74.64" x2="353.50" y2="74.64" stroke="#111" stroke-width="1.50" />
<line x1="378.10" y1="95.52" x2="378.10" y2="79.80" stroke="#111" stroke-width="1.50" />
<line x1="374.90" y1="79.80" x2="381.30" y2="79.80" stroke="#111" stroke-width="1.50" />
<line x1="405.90" y1="106.22" x2="405.90" y2="84.18" stroke="#111" stroke-width="1.50" />
<line x1="402.70" y1="84.18" x2="409.10" y2="84.18" stroke="#111" stroke-width="1.50" />
<line x1="433.70" y1="83.15" x2="433.70" y2="67.94" stroke="#111" stroke-width="1.50" />
<line x1="430.50" y1="67.94" x2="436.90" y2="67.94" stroke="#111" stroke-width="1.50" />
<line x1="489.30" y1="49.37" x2="489.30" y2="29.52" stroke="#111" stroke-width="1.50" />
<line x1="486.10" y1="29.52" x2="492.50" y2="29.52" stroke="#111" stroke-width="1.50" />
<polyline points="322.5,135.5 350.3,124.7 378.1,123.2 405.9,125.4 433.7,135.9 489.3,137.3" fill="none" stroke="#111" stroke-width="1.6"/>
<rect x="320.00" y="132.98" width="5" height="5" fill="#111"/>
<rect x="347.80" y="122.15" width="5" height="5" fill="#111"/>
<rect x="375.60" y="120.73" width="5" height="5" fill="#111"/>
<rect x="403.40" y="122.93" width="5" height="5" fill="#111"/>
<rect x="431.20" y="133.37" width="5" height="5" fill="#111"/>
<rect x="486.80" y="134.78" width="5" height="5" fill="#111"/>
<polyline points="322.5,137.3 350.3,103.6 378.1,95.5 405.9,106.2 433.7,83.1 489.3,49.4" fill="none" stroke="#111" stroke-width="1.6"/>
<circle cx="322.50" cy="137.28" r="2.8" fill="#111"/>
<circle cx="350.30" cy="103.64" r="2.8" fill="#111"/>
<circle cx="378.10" cy="95.52" r="2.8" fill="#111"/>
<circle cx="405.90" cy="106.22" r="2.8" fill="#111"/>
<circle cx="433.70" cy="83.15" r="2.8" fill="#111"/>
<circle cx="489.30" cy="49.37" r="2.8" fill="#111"/>
<text x="351.20" y="67.60" font-size="11.00" text-anchor="middle" font-weight="bold" >*</text>
<text x="378.50" y="75.00" font-size="11.00" text-anchor="middle" font-weight="bold" >*</text>
<text x="405.70" y="80.20" font-size="11.00" text-anchor="middle" font-weight="bold" >*</text>
<text x="433.70" y="61.40" font-size="11.00" text-anchor="middle" font-weight="bold" >**</text>
<text x="488.10" y="21.40" font-size="11.00" text-anchor="middle" font-weight="bold" >**</text>
<line x1="329.60" y1="16.90" x2="347.80" y2="16.90" stroke="#111" stroke-width="1.70" />
<circle cx="338.70" cy="16.90" r="2.8" fill="#111"/>
<line x1="329.60" y1="27.70" x2="347.80" y2="27.70" stroke="#111" stroke-width="1.90" />
<rect x="336.00" y="25.00" width="5.4" height="5.4" fill="#111"/>
<line x1="329.60" y1="39.10" x2="347.80" y2="39.10" stroke="#d2d2d2" stroke-width="1.00" stroke-dasharray="2 1.2"/>
<path d="M338.70 36.90 l2 3.6 h-4z" fill="#c9c9c9"/>
<line x1="329.60" y1="50.60" x2="347.80" y2="50.60" stroke="#c9c9c9" stroke-width="1.00" />
<path d="M338.70 52.60 l2 -3.6 h-4z" fill="#c9c9c9"/>
<text transform="translate(350.20 19.80) scale(1.035 1)" font-size="8.50" text-anchor="start" fill="#1a1a1a">MBB2 + LPS</text>
<text transform="translate(350.20 30.60) scale(1.035 1)" font-size="8.50" text-anchor="start" fill="#1a1a1a">MBB2 - LPS</text>
<text transform="translate(350.20 42.00) scale(1.035 1)" font-size="8.50" text-anchor="start" fill="#1a1a1a">control MB + LPS</text>
<text transform="translate(350.20 53.50) scale(1.035 1)" font-size="8.50" text-anchor="start" fill="#1a1a1a">control MB - LPS</text>
<text x="3.40" y="185.80" font-size="11.40" text-anchor="start" font-weight="bold" >C</text>
<line x1="46.80" y1="188.00" x2="46.80" y2="321.20" stroke="#111" stroke-width="1.50" />
<line x1="46.20" y1="320.60" x2="247.80" y2="320.60" stroke="#111" stroke-width="1.50" />
<line x1="42.70" y1="309.70" x2="46.80" y2="309.70" stroke="#111" stroke-width="1.50" />
<text transform="translate(41.90 312.85) scale(1.040 1)" font-size="8.80" text-anchor="end" >0</text>
<line x1="42.70" y1="285.48" x2="46.80" y2="285.48" stroke="#111" stroke-width="1.50" />
<text transform="translate(41.90 288.63) scale(1.040 1)" font-size="8.80" text-anchor="end" >20</text>
<line x1="42.70" y1="261.26" x2="46.80" y2="261.26" stroke="#111" stroke-width="1.50" />
<text transform="translate(41.90 264.41) scale(1.040 1)" font-size="8.80" text-anchor="end" >40</text>
<line x1="42.70" y1="237.04" x2="46.80" y2="237.04" stroke="#111" stroke-width="1.50" />
<text transform="translate(41.90 240.19) scale(1.040 1)" font-size="8.80" text-anchor="end" >60</text>
<line x1="42.70" y1="212.82" x2="46.80" y2="212.82" stroke="#111" stroke-width="1.50" />
<text transform="translate(41.90 215.97) scale(1.040 1)" font-size="8.80" text-anchor="end" >80</text>
<line x1="42.70" y1="188.60" x2="46.80" y2="188.60" stroke="#111" stroke-width="1.50" />
<text transform="translate(41.90 191.75) scale(1.040 1)" font-size="8.80" text-anchor="end" >100</text>
<line x1="97.60" y1="320.60" x2="97.60" y2="324.80" stroke="#111" stroke-width="1.50" />
<text x="97.60" y="335.00" font-size="10.30" text-anchor="middle" >MBB2</text>
<line x1="197.80" y1="320.60" x2="197.80" y2="324.80" stroke="#111" stroke-width="1.50" />
<text x="197.80" y="335.00" font-size="10.30" text-anchor="middle" >control MB</text>
<text transform="translate(21.60 255.40) rotate(-90) scale(0.990 1)" font-size="9.90" text-anchor="middle">Fetal resorption frequency (%)</text>
<line x1="97.60" y1="188.60" x2="97.60" y2="263.80" stroke="#111" stroke-width="1.30" />
<line x1="80.40" y1="188.60" x2="114.40" y2="188.60" stroke="#111" stroke-width="1.40" />
<line x1="80.40" y1="263.80" x2="114.40" y2="263.80" stroke="#111" stroke-width="1.40" />
<rect x="63.8" y="208.70" width="67.2" height="47.35" fill="url(#grid)" stroke="#111" stroke-width="1.4"/>
<line x1="63.80" y1="237.04" x2="131.00" y2="237.04" stroke="#111" stroke-width="1.50" />
<text x="97.60" y="187.20" font-size="11.00" text-anchor="middle" font-weight="bold" >*</text>
<line x1="197.80" y1="275.07" x2="197.80" y2="292.50" stroke="#111" stroke-width="1.30" />
<line x1="180.80" y1="275.07" x2="214.80" y2="275.07" stroke="#111" stroke-width="1.40" />
<rect x="164" y="292.50" width="67.4" height="17.20" fill="#fff" stroke="#111" stroke-width="1.4"/>
<text x="273.40" y="186.30" font-size="11.40" text-anchor="start" font-weight="bold" >D</text>
<line x1="308.30" y1="193.80" x2="308.30" y2="321.80" stroke="#111" stroke-width="1.50" />
<line x1="304.20" y1="321.20" x2="500.20" y2="321.20" stroke="#111" stroke-width="1.50" />
<line x1="304.20" y1="321.20" x2="308.30" y2="321.20" stroke="#111" stroke-width="1.50" />
<text transform="translate(303.40 324.35) scale(1.040 1)" font-size="8.80" text-anchor="end" >0.0</text>
<line x1="304.20" y1="289.50" x2="308.30" y2="289.50" stroke="#111" stroke-width="1.50" />
<text transform="translate(303.40 292.65) scale(1.040 1)" font-size="8.80" text-anchor="end" >0.1</text>
<line x1="304.20" y1="257.80" x2="308.30" y2="257.80" stroke="#111" stroke-width="1.50" />
<text transform="translate(303.40 260.95) scale(1.040 1)" font-size="8.80" text-anchor="end" >0.2</text>
<line x1="304.20" y1="226.10" x2="308.30" y2="226.10" stroke="#111" stroke-width="1.50" />
<text transform="translate(303.40 229.25) scale(1.040 1)" font-size="8.80" text-anchor="end" >0.3</text>
<line x1="304.20" y1="194.40" x2="308.30" y2="194.40" stroke="#111" stroke-width="1.50" />
<text transform="translate(303.40 197.55) scale(1.040 1)" font-size="8.80" text-anchor="end" >0.4</text>
<line x1="356.10" y1="321.20" x2="356.10" y2="325.40" stroke="#111" stroke-width="1.50" />
<text x="356.10" y="335.00" font-size="10.70" text-anchor="middle" >MBB2</text>
<line x1="451.70" y1="321.20" x2="451.70" y2="325.40" stroke="#111" stroke-width="1.50" />
<text x="451.70" y="335.00" font-size="10.70" text-anchor="middle" >Control MB</text>
<text transform="translate(285.20 258.20) rotate(-90) scale(0.915 1)" font-size="11.60" text-anchor="middle">fetal weight (g)</text>
<line x1="356.10" y1="271.11" x2="356.10" y2="286.33" stroke="#111" stroke-width="1.30" />
<line x1="339.80" y1="271.11" x2="372.60" y2="271.11" stroke="#111" stroke-width="1.40" />
<rect x="324.4" y="286.33" width="64.3" height="34.87" fill="url(#grid)" stroke="#111" stroke-width="1.4"/>
<text x="356.10" y="267.60" font-size="11.00" text-anchor="middle" font-weight="bold" >*</text>
<line x1="451.70" y1="206.13" x2="451.70" y2="223.56" stroke="#111" stroke-width="1.30" />
<line x1="435.40" y1="206.13" x2="468.00" y2="206.13" stroke="#111" stroke-width="1.40" />
<rect x="419.9" y="223.56" width="63.7" height="97.64" fill="#fff" stroke="#111" stroke-width="1.4"/>
</svg></body></html>
